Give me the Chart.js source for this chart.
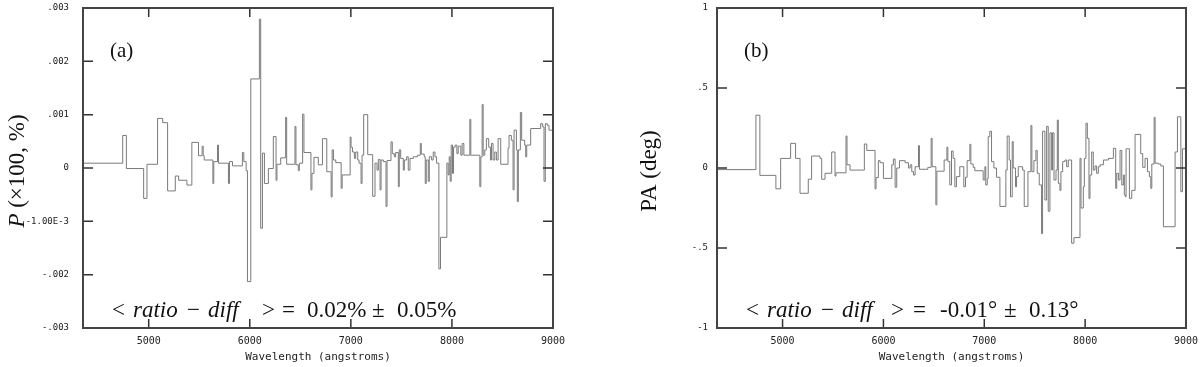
<!DOCTYPE html>
<html>
<head>
<meta charset="utf-8">
<script src="https://cdn.jsdelivr.net/npm/chart.js"></script>
<style>
  body { margin: 0; background: #fff; }
  .panel { position: absolute; top: 0; width: 600px; height: 367px; }
</style>
</head>
<body>
<div class="panel" style="left:0"><canvas id="chartA" width="600" height="367"></canvas></div>
<div class="panel" style="left:600px"><canvas id="chartB" width="600" height="367"></canvas></div>
<script>
// each value holds from its wavelength until the next one (step plot)
var waveA = [
  4350, 4743, 4779, 4950, 4983, 5088, 5138, 5187, 5263, 5296,
  5378, 5427, 5493, 5529, 5539, 5549, 5635, 5644, 5681, 5690,
  5789, 5799, 5829, 5927, 5941, 5964, 5977, 6010, 6095, 6108,
  6125, 6145, 6184, 6233, 6260, 6269, 6306, 6355, 6365, 6447,
  6457, 6480, 6490, 6523, 6536, 6605, 6615, 6635, 6678, 6719,
  6762, 6805, 6815, 6828, 6851, 6904, 6914, 6993, 7002, 7016,
  7035, 7048, 7068, 7081, 7101, 7111, 7127, 7167, 7216, 7239,
  7259, 7272, 7289, 7299, 7322, 7348, 7358, 7397, 7410, 7430,
  7443, 7470, 7479, 7493, 7519, 7529, 7552, 7568, 7585, 7618,
  7660, 7687, 7697, 7726, 7736, 7746, 7766, 7776, 7799, 7815,
  7832, 7848, 7871, 7887, 7950, 7963, 7973, 7983, 7993, 8006,
  8016, 8032, 8049, 8062, 8088, 8101, 8118, 8177, 8187, 8276,
  8286, 8299, 8309, 8325, 8341, 8364, 8381, 8391, 8407, 8424,
  8440, 8457, 8483, 8555, 8565, 8588, 8605, 8615, 8638, 8647,
  8657, 8677, 8690, 8720, 8730, 8740, 8779, 8878, 8898, 8911,
  8924, 8944, 8960, 9000
];
var polA = [
  0.00009, 0.00061, -0.00001, -0.00057, 0.00007, 0.00093, 0.00085, -0.00043, -0.00015, -0.00023,
  -0.00032, 0.00048, 0.00023, 0.00041, 0.00023, 0.00015, -0.00029, 0.00012, 0.00043, 0.00009,
  -0.00029, 0.00012, 0.00004, 0.00029, 0.00012, -0.00005, -0.00213, 0.00167, 0.00279, -0.00113,
  0.00028, -0.00029, -0.00001, 0.00059, -0.00023, 0.00007, 0.00019, 0.00095, 0.00007, 0.00078,
  0.00006, -0.00005, 0.00009, 0.00101, 0.00029, -0.00041, -0.0001, 0.0002, 0.00006, 0.00055,
  -0.00007, -0.00054, 0.00034, 0.00015, 0.0001, -0.00038, -0.00013, 0.00058, 0.00039, 0.0003,
  0.00018, 0.0003, 0.00015, 0.00009, -0.00029, 0.00024, 0.001, 0.00025, -0.00053, 0.00009,
  -0.00004, 0.00016, -0.00041, 0.00015, 0.00012, -0.00072, 0.00014, 0.00049, 0.00027, 0.00021,
  0.00029, -0.00035, 0.00034, 0.00018, -0.00004, 0.00015, 0.00021, -0.00004, 0.00018, 0.00021,
  0.00024, 0.00046, 0.00026, 0.00021, -0.00029, 0.00015, -0.00025, 0.00021, 0.00015, 0.0003,
  0.00021, 0.00009, -0.00189, -0.0013, 0.00009, -0.00013, 0.00021, -0.00025, 0.00043, -0.0001,
  0.00039, 0.00043, 0.00027, 0.00041, 0.00024, 0.00046, 0.00024, 0.00091, 0.00024, -0.00035,
  0.00021, 0.00119, 0.00024, 0.00034, 0.00055, 0.00039, 0.00015, 0.00046, 0.00015, 0.0003,
  0.00015, 0.00055, 0.00007, 0.00037, 0.00061, 0.00052, -0.00041, 0.00071, 0.00034, -0.00063,
  0.00034, 0.00104, 0.00052, 0.00043, 0.00021, 0.00043, 0.00074, 0.00083, 0.00077, -0.00025,
  0.00083, 0.0008, 0.00071, 0.00071
];

var waveB = [
  4350, 4736, 4775, 4934, 4981, 5080, 5129, 5173, 5255, 5288,
  5371, 5388, 5421, 5487, 5520, 5530, 5629, 5639, 5669, 5811,
  5835, 5917, 5927, 5950, 5967, 6000, 6083, 6099, 6116, 6132,
  6159, 6215, 6248, 6265, 6281, 6298, 6314, 6348, 6357, 6440,
  6473, 6483, 6520, 6530, 6602, 6629, 6639, 6658, 6675, 6691,
  6708, 6724, 6757, 6797, 6814, 6830, 6857, 6867, 6890, 6906,
  6989, 7006, 7015, 7029, 7039, 7055, 7072, 7095, 7121, 7155,
  7214, 7227, 7247, 7260, 7277, 7287, 7310, 7320, 7337, 7380,
  7396, 7433, 7462, 7472, 7492, 7512, 7525, 7545, 7568, 7578,
  7601, 7618, 7634, 7651, 7668, 7677, 7691, 7711, 7724, 7734,
  7750, 7760, 7777, 7800, 7817, 7833, 7866, 7889, 7949, 7959,
  7982, 7992, 8008, 8022, 8038, 8048, 8065, 8081, 8098, 8114,
  8131, 8148, 8181, 8230, 8280, 8303, 8313, 8330, 8346, 8363,
  8379, 8389, 8399, 8406, 8439, 8462, 8495, 8551, 8571, 8594,
  8618, 8637, 8651, 8661, 8684, 8694, 8727, 8750, 8776, 8892,
  8915, 8949, 8965, 9000
];
var paB = [
  -0.01, 0.33, -0.046, -0.13, 0.06, 0.154, 0.06, -0.158, -0.07, 0.075,
  0.06, -0.07, -0.033, 0.1, -0.05, -0.03, 0.2, 0.02, -0.013, 0.15,
  0.11, -0.13, -0.06, 0.046, 0.033, -0.065, 0.02, 0.056, -0.12, 0.0,
  0.046, 0.033, 0.0, 0.02, -0.023, -0.044, 0.008, 0.14, -0.008, 0.004,
  0.185, 0.008, -0.23, -0.02, 0.05, 0.13, 0.04, -0.106, 0.106, 0.06,
  -0.117, -0.054, 0.008, -0.117, -0.058, 0.046, 0.148, 0.025, 0.004, -0.017,
  -0.075, 0.008, -0.106, -0.065, 0.196, 0.23, 0.04, 0.0, -0.058, -0.24,
  -0.013, 0.2, 0.05, -0.18, 0.165, 0.0, -0.117, -0.054, 0.008, -0.013,
  -0.24, -0.023, 0.265, -0.023, 0.046, 0.11, -0.033, -0.106, -0.41, 0.23,
  -0.2, 0.26, -0.27, 0.22, -0.013, 0.22, -0.075, -0.013, 0.3, -0.096,
  -0.14, -0.023, 0.04, 0.05, 0.008, 0.05, -0.47, -0.435, 0.06, -0.25,
  -0.117, 0.06, 0.28, 0.185, -0.19, -0.044, 0.1, -0.013, 0.013, -0.033,
  0.008, 0.02, 0.05, 0.06, 0.123, -0.127, -0.033, -0.075, 0.11, -0.106,
  -0.044, -0.17, -0.18, 0.12, -0.19, -0.14, 0.21, 0.09, 0.004, 0.06,
  -0.023, -0.054, -0.127, 0.025, 0.316, 0.03, 0.025, 0.013, -0.367, 0.1,
  0.32, -0.148, 0.12, 0.12
];

var xTicks = [5000, 6000, 7000, 8000, 9000];
var yTicksA = [-0.003, -0.002, -0.001, 0, 0.001, 0.002, 0.003];
var yLabelsA = ['-.003', '-.002', '-1.00E-3', '0', '.001', '.002', '.003'];
var yTicksB = [-1, -0.5, 0, 0.5, 1];
var yLabelsB = ['-1', '-.5', '0', '.5', '1'];

var MONO = '"DejaVu Sans Mono", monospace';
var SERIF = '"Liberation Serif", "DejaVu Serif", serif';

// draws frame, inward ticks and the TeX-like labels
var decoPlugin = {
  id: 'deco',
  afterDatasetsDraw: function(chart, args, o) {
    var ctx = chart.ctx, a = chart.chartArea;
    var xs = chart.scales.x, ys = chart.scales.y;
    ctx.save();
    ctx.strokeStyle = '#333';
    ctx.lineWidth = 1.5;
    ctx.beginPath();
    xTicks.forEach(function(v) {
      var px = xs.getPixelForValue(v);
      if (px < a.right - 3) {
        ctx.moveTo(px, a.bottom); ctx.lineTo(px, a.bottom - 9);
        ctx.moveTo(px, a.top); ctx.lineTo(px, a.top + 9);
      }
    });
    o.yTicks.forEach(function(v) {
      var py = ys.getPixelForValue(v);
      if (py > a.top + 3 && py < a.bottom - 3) {
        ctx.moveTo(a.left, py); ctx.lineTo(a.left + 10, py);
        ctx.moveTo(a.right, py); ctx.lineTo(a.right - 10, py);
      }
    });
    ctx.stroke();
    ctx.lineWidth = 2;
    ctx.strokeStyle = '#444';
    ctx.strokeRect(a.left, a.top, a.right - a.left, a.bottom - a.top);

    ctx.fillStyle = '#111';
    ctx.textBaseline = 'alphabetic';
    ctx.textAlign = 'left';

    // y title, rotated
    ctx.save();
    var cy = (a.top + a.bottom) / 2 + 3;
    ctx.translate(o.titleX, cy);
    ctx.rotate(-Math.PI / 2);
    var w = 0;
    o.title.forEach(function(p) { ctx.font = (p.it ? 'italic ' : '') + '23px ' + SERIF; w += ctx.measureText(p.t).width; });
    var x = -w / 2;
    o.title.forEach(function(p) {
      ctx.font = (p.it ? 'italic ' : '') + '23px ' + SERIF;
      ctx.fillText(p.t, x, 0);
      x += ctx.measureText(p.t).width;
    });
    ctx.restore();

    // panel tag
    ctx.font = '21px ' + SERIF;
    ctx.fillText(o.tag, a.left + 27, 57);

    // mean difference line
    o.note.forEach(function(p) {
      ctx.font = (p.it ? 'italic ' : '') + '23px ' + SERIF;
      ctx.fillText(p.t, a.left + p.dx, 317);
    });

    // x title
    ctx.font = '11px ' + MONO;
    ctx.fillStyle = '#222';
    ctx.textAlign = 'center';
    ctx.fillText('Wavelength (angstroms)', (a.left + a.right) / 2, 360);
    ctx.restore();
  }
};

function makePanel(id, waves, vals, yMin, yMax, yTicks, yLabels, axisW, padRight, labPad, decoOpts) {
  var pts = waves.map(function(w, i) { return { x: w, y: vals[i] }; });
  return new Chart(document.getElementById(id), {
    type: 'line',
    data: {
      datasets: [{
        data: pts,
        stepped: true,
        borderColor: '#7a7a7a',
        borderWidth: 1,
        pointRadius: 0,
        fill: false
      }]
    },
    options: {
      responsive: false,
      animation: false,
      layout: { padding: { top: 8, right: padRight, left: 0, bottom: 0 } },
      plugins: { legend: { display: false }, tooltip: { enabled: false }, deco: decoOpts },
      scales: {
        x: {
          type: 'linear',
          min: 4350, max: 9000,
          grid: { display: false, drawTicks: false },
          border: { display: false },
          afterBuildTicks: function(s) { s.ticks = xTicks.map(function(v) { return { value: v }; }); },
          afterFit: function(s) { s.height = 39; s.paddingLeft = 0; s.paddingRight = 0; },
          ticks: {
            padding: 7,
            color: '#222',
            font: { family: MONO, size: 10 },
            maxRotation: 0,
            callback: function(v) { return String(v); }
          }
        },
        y: {
          min: yMin, max: yMax,
          grid: { display: false, drawTicks: false },
          border: { display: false },
          afterBuildTicks: function(s) { s.ticks = yTicks.map(function(v) { return { value: v }; }); },
          afterFit: function(s) { s.width = axisW; s.paddingTop = 0; s.paddingBottom = 0; },
          ticks: {
            padding: labPad,
            color: '#222',
            font: { family: MONO, size: 9 },
            callback: function(v) {
              var i = yTicks.indexOf(v);
              return i >= 0 ? yLabels[i] : '';
            }
          }
        }
      }
    },
    plugins: [decoPlugin]
  });
}

var noteOffsets = [29, 50, 104, 125, 179, 199, 224, 289, 314];

makePanel('chartA', waveA, polA, -0.003, 0.003, yTicksA, yLabelsA, 83, 47, 14, {
  yTicks: yTicksA,
  titleX: 24,
  title: [{ t: 'P', it: true }, { t: ' (\u00d7100, %)', it: false }],
  tag: '(a)',
  note: [
    { t: '<', dx: noteOffsets[0] }, { t: 'ratio', it: true, dx: noteOffsets[1] },
    { t: '\u2212', dx: noteOffsets[2] }, { t: 'diff', it: true, dx: noteOffsets[3] },
    { t: '>', dx: noteOffsets[4] }, { t: '=', dx: noteOffsets[5] },
    { t: '0.02%', dx: noteOffsets[6] }, { t: '\u00b1', dx: noteOffsets[7] },
    { t: '0.05%', dx: noteOffsets[8] }
  ]
});

makePanel('chartB', waveB, paB, -1, 1, yTicksB, yLabelsB, 117, 14, 9, {
  yTicks: yTicksB,
  titleX: 56,
  title: [{ t: 'PA (deg)', it: false }],
  tag: '(b)',
  note: [
    { t: '<', dx: noteOffsets[0] }, { t: 'ratio', it: true, dx: noteOffsets[1] },
    { t: '\u2212', dx: noteOffsets[2] }, { t: 'diff', it: true, dx: noteOffsets[3] },
    { t: '>', dx: noteOffsets[4] - 5 }, { t: '=', dx: noteOffsets[5] - 3 },
    { t: '-0.01\u00b0', dx: noteOffsets[6] - 1 }, { t: '\u00b1', dx: noteOffsets[7] - 2 },
    { t: '0.13\u00b0', dx: noteOffsets[8] - 2 }
  ]
});
</script>
</body>
</html>
